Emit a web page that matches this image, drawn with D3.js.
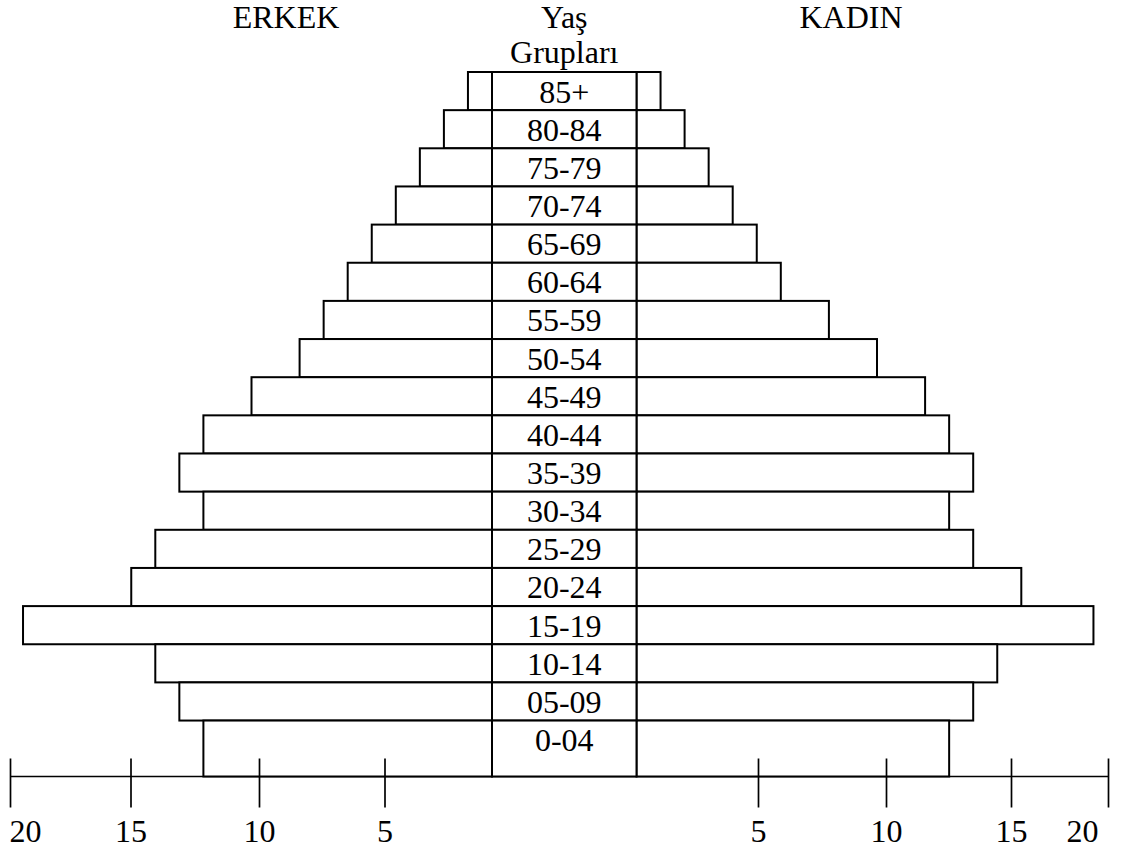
<!DOCTYPE html>
<html>
<head>
<meta charset="utf-8">
<script src="https://cdn.jsdelivr.net/npm/d3@7"></script>
<style>
  html, body { margin: 0; padding: 0; background: #fff; }
  svg { display: block; }
  text { font-family: "Liberation Serif", "Times New Roman", serif; font-size: 32px; fill: #000; }
</style>
</head>
<body>
<svg id="chart" width="1123" height="849"></svg>
<script>
// ---- data ----
const ageGroups = ["85+","80-84","75-79","70-74","65-69","60-64","55-59","50-54","45-49",
                   "40-44","35-39","30-34","25-29","20-24","15-19","10-14","05-09","0-04"];
const male   = [1, 2, 3, 4, 5, 6, 7, 8, 10, 12, 13, 12, 14, 15, 19.5, 14, 13, 12];
const female = [1, 2, 3, 4, 5, 6, 8, 10, 12, 13, 14, 13, 14, 16, 19, 15, 14, 13];
const leftTickValues  = [20, 15, 10, 5];
const rightTickValues = [5, 10, 15, 20];
const titleLeft = "ERKEK", titleRight = "KADIN";
const centerTitle = ["Yaş", "Grupları"];

// ---- layout ----
const svg = d3.select("#chart");
const centerL = 492, centerR = 636.5;
const unitSpan = 481;        // pixels for 20 units
const topY = 72, rowStep = 38.15;
const axisY = 776.5;

const xL = d3.scaleLinear().domain([0, 20]).range([centerL, centerL - unitSpan]);
const xR = d3.scaleLinear().domain([0, 20]).range([centerR, centerR + unitSpan]);
const y = d3.scaleBand().domain(ageGroups)
  .range([topY, topY + rowStep * ageGroups.length]).padding(0);

// hand-drawn axis tick placement of the original
const axL = d3.scaleLinear().domain([20, 15, 10, 5]).range([10, 130.5, 259, 384.5]);
const axR = d3.scaleLinear().domain([5, 10, 15, 20]).range([758, 886, 1011, 1108]);

const rows = ageGroups.map((g, i) => ({ g, m: male[i], f: female[i], last: i === ageGroups.length - 1 }));
const rowTop = d => y(d.g);
const rowH = d => d.last ? axisY - y(d.g) : y.bandwidth();

// axis base line
svg.append("line")
  .attr("x1", axL(20)).attr("x2", axR(20))
  .attr("y1", axisY).attr("y2", axisY)
  .attr("stroke", "#000").attr("stroke-width", 1.3);

const rowG = svg.append("g").attr("fill", "#fff").attr("stroke", "#000").attr("stroke-width", 2);
rowG.selectAll("rect.m").data(rows).join("rect").attr("class", "m")
  .attr("x", d => xL(d.m)).attr("width", d => centerL - xL(d.m))
  .attr("y", rowTop).attr("height", rowH);
rowG.selectAll("rect.f").data(rows).join("rect").attr("class", "f")
  .attr("x", centerR).attr("width", d => xR(d.f) - centerR)
  .attr("y", rowTop).attr("height", rowH);
rowG.selectAll("rect.c").data(rows).join("rect").attr("class", "c")
  .attr("x", centerL).attr("width", centerR - centerL)
  .attr("y", rowTop).attr("height", rowH);

// age labels
const cx = (centerL + centerR) / 2;
svg.append("g").selectAll("text").data(rows).join("text")
  .attr("x", cx).attr("y", d => y(d.g) + 30.5)
  .attr("text-anchor", "middle").text(d => d.g);

// titles
svg.append("text").attr("x", 286).attr("y", 28).attr("text-anchor", "middle").text(titleLeft);
svg.append("text").attr("x", 851).attr("y", 28).attr("text-anchor", "middle").text(titleRight);
svg.append("text").attr("x", cx).attr("y", 28).attr("text-anchor", "middle").text(centerTitle[0]);
svg.append("text").attr("x", cx).attr("y", 63).attr("text-anchor", "middle").text(centerTitle[1]);

// axes
function styleAxis(g, edge) {
  g.select(".domain").remove();
  g.selectAll(".tick line").attr("y1", -18).attr("y2", 31).attr("stroke", "#000").attr("stroke-width", 1.7);
  g.selectAll(".tick text")
    .attr("y", 65.5).attr("dy", 0)
    .style("font-family", '"Liberation Serif", "Times New Roman", serif')
    .style("font-size", "32px").attr("fill", "#000");
  g.selectAll(".tick text").filter(d => d === 20)
    .attr("text-anchor", edge === "left" ? "start" : "end")
    .attr("dx", edge === "left" ? -1 : -10);
}
svg.append("g").attr("transform", `translate(0,${axisY})`)
  .call(d3.axisBottom(axL).tickValues(leftTickValues).tickFormat(d3.format("d")))
  .call(g => styleAxis(g, "left"));
svg.append("g").attr("transform", `translate(0,${axisY})`)
  .call(d3.axisBottom(axR).tickValues(rightTickValues).tickFormat(d3.format("d")))
  .call(g => styleAxis(g, "right"));
</script>
</body>
</html>
